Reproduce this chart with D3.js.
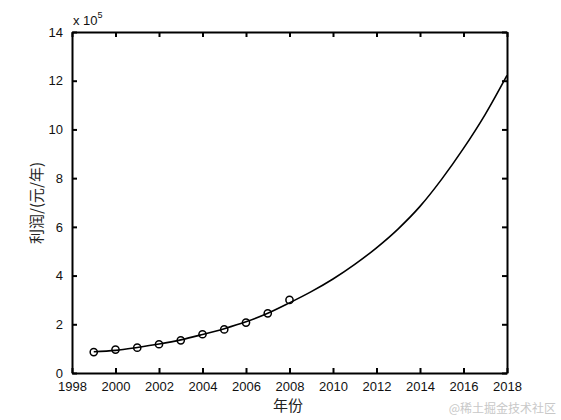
<!DOCTYPE html>
<html>
<head>
<meta charset="utf-8">
<script src="https://cdn.jsdelivr.net/npm/d3@7"></script>
<style>
  body { margin: 0; background: #fff; }
  text { font-family: "Liberation Sans", Arial, sans-serif; }
</style>
</head>
<body>
<div id="chart"></div>
<script>
// observed data (x 10^5)
var years = [1999, 2000, 2001, 2002, 2003, 2004, 2005, 2006, 2007, 2008];
var profit = [0.86, 0.96, 1.04, 1.18, 1.34, 1.59, 1.79, 2.07, 2.45, 3.0];

// fitted curve
var fitYears = [1999, 2000, 2001, 2002, 2003, 2004, 2005, 2006, 2007, 2008,
                2009, 2010, 2011, 2012, 2013, 2014, 2015, 2016, 2017, 2018];
var fitValues = [0.87, 0.93, 1.05, 1.19, 1.36, 1.58, 1.82, 2.10, 2.45, 2.88,
                 3.34, 3.86, 4.46, 5.14, 5.92, 6.84, 7.96, 9.22, 10.62, 12.22];

var xTicks = [1998, 2000, 2002, 2004, 2006, 2008, 2010, 2012, 2014, 2016, 2018];
var yTicks = [0, 2, 4, 6, 8, 10, 12, 14];

var W = 561, H = 420;
var m = {left: 72, top: 32, right: 54, bottom: 47};
var iw = W - m.left - m.right, ih = H - m.top - m.bottom;

var svg = d3.select("#chart").append("svg")
    .attr("width", W)
    .attr("height", H);

var g = svg.append("g").attr("transform", "translate(" + m.left + "," + m.top + ")");

var x = d3.scaleLinear().domain([1998, 2018]).range([0, iw]);
var y = d3.scaleLinear().domain([0, 14]).range([ih, 0]);

// axes, ticks pointing inward like matlab
var axB = g.append("g").attr("transform", "translate(0," + ih + ")")
    .call(d3.axisBottom(x).tickValues(xTicks).tickFormat(d3.format("d")).tickSizeInner(-5).tickSizeOuter(0).tickPadding(9));
var axT = g.append("g")
    .call(d3.axisTop(x).tickValues(xTicks).tickFormat("").tickSizeInner(-5).tickSizeOuter(0));
var axL = g.append("g")
    .call(d3.axisLeft(y).tickValues(yTicks).tickSizeInner(-5).tickSizeOuter(0).tickPadding(9));
var axR = g.append("g").attr("transform", "translate(" + iw + ",0)")
    .call(d3.axisRight(y).tickValues(yTicks).tickFormat("").tickSizeInner(-5).tickSizeOuter(0));

[axB, axT, axL, axR].forEach(function(a) {
    a.select(".domain").attr("stroke", "#000").attr("stroke-width", 2);
    a.selectAll(".tick line").attr("stroke", "#000").attr("stroke-width", 2);
    a.selectAll(".tick text").attr("fill", "#111").style("font-size", "13px")
        .style("font-family", "'Liberation Sans', Arial, sans-serif");
});

// fitted curve
var line = d3.line()
    .x(function(d, i) { return x(fitYears[i]); })
    .y(function(d) { return y(d); })
    .curve(d3.curveMonotoneX);

g.append("path")
    .datum(fitValues)
    .attr("fill", "none")
    .attr("stroke", "#000")
    .attr("stroke-width", 1.6)
    .attr("d", line);

// observed points
g.selectAll("circle.obs")
    .data(profit).enter()
    .append("circle")
    .attr("class", "obs")
    .attr("cx", function(d, i) { return x(years[i]); })
    .attr("cy", function(d) { return y(d); })
    .attr("r", 3.6)
    .attr("fill", "none")
    .attr("stroke", "#000")
    .attr("stroke-width", 1.5);

// exponent label
var expo = svg.append("text").attr("x", 73).attr("y", 25)
    .style("font-size", "13px").attr("fill", "#111");
expo.append("tspan").text("x 10");
expo.append("tspan").attr("dy", -7).style("font-size", "9px").text("5");

// axis titles
svg.append("text")
    .attr("x", 288).attr("y", 411)
    .attr("text-anchor", "middle")
    .style("font-size", "15px")
    .style("font-family", "'Noto Sans CJK SC', sans-serif")
    .attr("fill", "#222")
    .text("年份");

svg.append("text")
    .attr("transform", "translate(42,203) rotate(-90)")
    .attr("text-anchor", "middle")
    .style("font-size", "15px")
    .style("font-family", "'Noto Sans CJK SC', sans-serif")
    .attr("fill", "#222")
    .text("利润/(元/年)");

// watermark
svg.append("text")
    .attr("x", 556).attr("y", 413)
    .attr("text-anchor", "end")
    .style("font-size", "12px")
    .style("font-family", "'Noto Sans CJK SC', sans-serif")
    .attr("fill", "#c8c8c8")
    .text("@稀土掘金技术社区");
</script>
</body>
</html>
